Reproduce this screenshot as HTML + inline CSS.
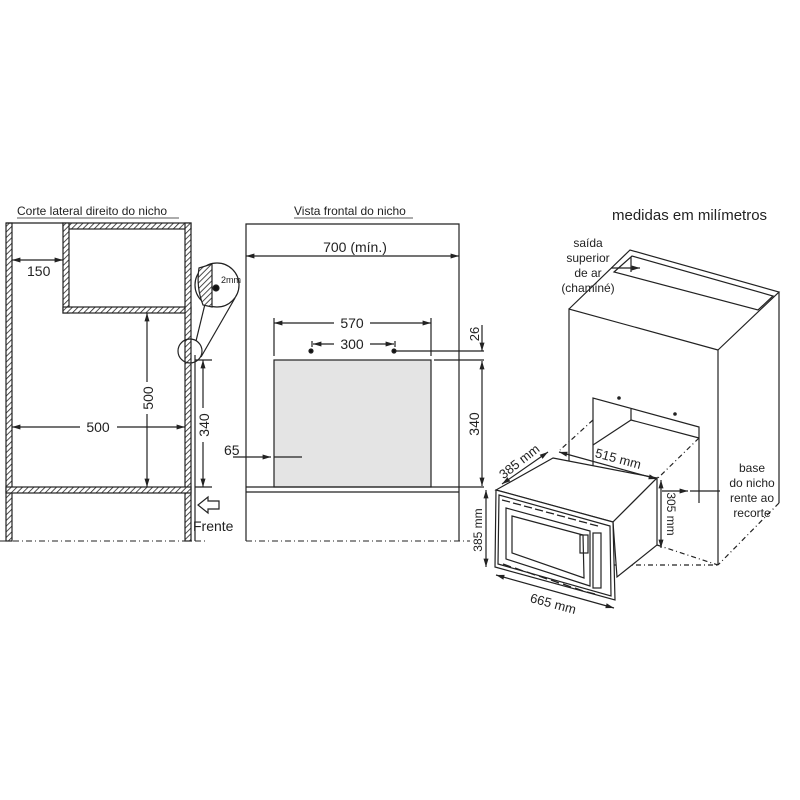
<!DOCTYPE html>
<html><head><meta charset="utf-8"><style>
html,body{margin:0;padding:0;background:#fff;}
svg{display:block;font-family:"Liberation Sans",sans-serif;}
</style></head><body>
<svg width="800" height="800" viewBox="0 0 800 800" xmlns="http://www.w3.org/2000/svg">
<defs>
<pattern id="h" width="4" height="4" patternUnits="userSpaceOnUse" patternTransform="rotate(45)">
<rect width="4" height="4" fill="#fff"/><line x1="0" y1="0" x2="0" y2="4" stroke="#222" stroke-width="1.6"/>
</pattern>
<marker id="a" viewBox="0 0 10 10" refX="10" refY="5" markerWidth="7" markerHeight="7" orient="auto-start-reverse"><path d="M0,2 L10,5 L0,8z" fill="#222"/></marker>
</defs>
<g stroke="#222" fill="none" stroke-width="1.2">

<!-- LEFT SECTION -->
<text x="17" y="215" font-size="12" fill="#222" stroke="none">Corte lateral direito do nicho</text>
<line x1="17" y1="218" x2="179" y2="218" stroke-width="0.8"/>
<rect x="6" y="223" width="6" height="318" fill="url(#h)"/>
<line x1="6" y1="223" x2="63" y2="223"/>
<rect x="63" y="223" width="128" height="6" fill="url(#h)"/>
<rect x="63" y="223" width="6" height="90" fill="url(#h)"/>
<rect x="63" y="307" width="128" height="6" fill="url(#h)"/>
<rect x="185" y="223" width="6" height="318" fill="url(#h)"/>
<rect x="6" y="487" width="185" height="6" fill="url(#h)"/>
<line x1="195" y1="355" x2="195" y2="541"/>
<line x1="12" y1="260" x2="63" y2="260" marker-start="url(#a)" marker-end="url(#a)"/>
<text x="27" y="276" font-size="14" fill="#222" stroke="none">150</text>
<line x1="147" y1="313" x2="147" y2="487" marker-start="url(#a)" marker-end="url(#a)"/>
<rect x="140" y="382" width="14" height="32" fill="#fff" stroke="none"/>
<text x="153" y="398" font-size="14" fill="#222" stroke="none" transform="rotate(-90 153 398)" text-anchor="middle">500</text>
<line x1="12" y1="427" x2="80" y2="427" marker-start="url(#a)"/>
<line x1="117" y1="427" x2="185" y2="427" marker-end="url(#a)"/>
<text x="98" y="432" font-size="14" fill="#222" stroke="none" text-anchor="middle">500</text>
<line x1="203" y1="360" x2="203" y2="487" marker-start="url(#a)" marker-end="url(#a)"/>
<line x1="195" y1="360" x2="212" y2="360"/><line x1="195" y1="487" x2="212" y2="487"/>
<rect x="196" y="408" width="14" height="34" fill="#fff" stroke="none"/>
<text x="209" y="425" font-size="14" fill="#222" stroke="none" transform="rotate(-90 209 425)" text-anchor="middle">340</text>
<circle cx="190" cy="351" r="12"/>
<circle cx="217" cy="285" r="22"/>
<line x1="196" y1="341" x2="205" y2="304"/><line x1="201" y1="357" x2="235" y2="298"/>
<path d="M199,268 L212,264 L212,307 L203,305 Q196,287 199,268z" fill="url(#h)"/>
<circle cx="216" cy="288" r="3" fill="#111"/>
<text x="221" y="283" font-size="9" fill="#222" stroke="none">2mm</text>
<path d="M219,501 L208,501 L208,497 L198,505 L208,513 L208,509 L219,509z"/>
<text x="193" y="531" font-size="14" fill="#222" stroke="none">Frente</text>
<line x1="0" y1="541" x2="205" y2="541" stroke-dasharray="6,3,1,3" stroke-width="1"/>

<!-- FRONT VIEW -->
<text x="294" y="215" font-size="12" fill="#222" stroke="none">Vista frontal do nicho</text>
<line x1="294" y1="218" x2="413" y2="218" stroke-width="0.8"/>
<polyline points="246,541 246,224 459,224 459,541"/>
<line x1="246" y1="256" x2="459" y2="256" marker-start="url(#a)" marker-end="url(#a)"/>
<text x="355" y="252" font-size="14" fill="#222" stroke="none" text-anchor="middle">700 (mín.)</text>
<rect x="274" y="360" width="157" height="127" fill="#e4e4e4"/>
<line x1="246" y1="487" x2="484" y2="487"/>
<line x1="246" y1="492" x2="459" y2="492"/>
<line x1="274" y1="356" x2="274" y2="318"/><line x1="431" y1="356" x2="431" y2="318"/>
<line x1="274" y1="323" x2="334" y2="323" marker-start="url(#a)"/>
<line x1="370" y1="323" x2="431" y2="323" marker-end="url(#a)"/>
<text x="352" y="328" font-size="14" fill="#222" stroke="none" text-anchor="middle">570</text>
<line x1="312" y1="347" x2="312" y2="341"/><line x1="395" y1="347" x2="395" y2="341"/>
<line x1="313" y1="344" x2="334" y2="344" marker-start="url(#a)"/>
<line x1="370" y1="344" x2="394" y2="344" marker-end="url(#a)"/>
<text x="352" y="349" font-size="14" fill="#222" stroke="none" text-anchor="middle">300</text>
<circle cx="311" cy="351" r="2" fill="#111"/><circle cx="394" cy="351" r="2" fill="#111"/>
<line x1="396" y1="351" x2="484" y2="351"/>
<line x1="434" y1="360" x2="484" y2="360"/>
<line x1="482" y1="325" x2="482" y2="351" marker-end="url(#a)"/>
<text x="479" y="334" font-size="13" fill="#222" stroke="none" transform="rotate(-90 479 334)" text-anchor="middle">26</text>
<line x1="482" y1="361" x2="482" y2="486" marker-start="url(#a)" marker-end="url(#a)"/>
<text x="479" y="424" font-size="14" fill="#222" stroke="none" transform="rotate(-90 479 424)" text-anchor="middle">340</text>
<line x1="233" y1="457" x2="271" y2="457" marker-end="url(#a)"/>
<line x1="274" y1="457" x2="302" y2="457"/>
<text x="224" y="455" font-size="14" fill="#222" stroke="none">65</text>
<line x1="246" y1="541" x2="470" y2="541" stroke-dasharray="6,3,1,3" stroke-width="1"/>

<!-- ISO -->
<text x="612" y="220" font-size="15" fill="#222" stroke="none">medidas em milímetros</text>
<text x="588" y="247" font-size="12" fill="#222" stroke="none" text-anchor="middle">saída</text>
<text x="588" y="262" font-size="12" fill="#222" stroke="none" text-anchor="middle">superior</text>
<text x="588" y="277" font-size="12" fill="#222" stroke="none" text-anchor="middle">de ar</text>
<text x="588" y="292" font-size="12" fill="#222" stroke="none" text-anchor="middle">(chaminé)</text>
<polyline points="569,560 569,309 718,350 718,565"/>
<polyline points="569,309 630,250 779,292 718,350"/>
<polygon points="614,272 632,256 773,296 758,310"/>
<line x1="631" y1="257" x2="631" y2="272"/>
<line x1="611" y1="268" x2="640" y2="268" marker-end="url(#a)"/>
<line x1="779" y1="292" x2="779" y2="503"/>
<line x1="779" y1="503" x2="718" y2="565" stroke-dasharray="5,3,1,3"/>
<line x1="612" y1="565" x2="718" y2="565" stroke-dasharray="5,3,1,3"/>
<!-- niche cutout -->
<polyline points="593,468 593,398 699,427 699,503"/>
<line x1="631" y1="409" x2="631" y2="420"/>
<line x1="631" y1="420" x2="593" y2="445"/>
<line x1="631" y1="420" x2="699" y2="438"/>
<circle cx="619" cy="398" r="1.2" fill="#222"/><circle cx="675" cy="414" r="1.2" fill="#222"/>
<line x1="593" y1="420" x2="560" y2="450" stroke-dasharray="5,3,1,3"/>
<line x1="699" y1="438" x2="658" y2="478" stroke-dasharray="5,3,1,3"/>
<line x1="690" y1="491" x2="720" y2="491"/>
<line x1="662" y1="491" x2="688" y2="491" marker-end="url(#a)"/>
<text x="752" y="472" font-size="12" fill="#222" stroke="none" text-anchor="middle">base</text>
<text x="752" y="487" font-size="12" fill="#222" stroke="none" text-anchor="middle">do nicho</text>
<text x="752" y="502" font-size="12" fill="#222" stroke="none" text-anchor="middle">rente ao</text>
<text x="752" y="517" font-size="12" fill="#222" stroke="none" text-anchor="middle">recorte</text>
<line x1="657" y1="545" x2="718" y2="565" stroke-dasharray="5,3,1,3"/>
<!-- microwave -->
<polygon points="553,458 657,478 613,522 496,490" fill="#fff"/>
<polygon points="657,478 657,545 617,577 613,522" fill="#fff"/>
<polygon points="496,490 613,522 615,600 495,567" fill="#fff"/>
<polygon points="499,495 610,526 611,596 498,564"/>
<polygon points="506,508 590,531 590,586 506,559"/>
<polygon points="512,516 583,535 584,578 512,553"/>
<rect x="593" y="533" width="8" height="55"/>
<rect x="580" y="535" width="8" height="18"/>
<g stroke-width="1.3">
<line x1="502" y1="500" x2="510" y2="502"/><line x1="513" y1="503" x2="521" y2="505"/><line x1="524" y1="506" x2="532" y2="508"/><line x1="535" y1="509" x2="543" y2="511"/><line x1="546" y1="512" x2="554" y2="514"/><line x1="557" y1="515" x2="565" y2="517"/><line x1="568" y1="518" x2="576" y2="520"/><line x1="579" y1="521" x2="587" y2="523"/><line x1="590" y1="524" x2="598" y2="526"/>
<line x1="503" y1="564" x2="511" y2="567"/><line x1="515" y1="568" x2="523" y2="571"/><line x1="527" y1="572" x2="535" y2="575"/><line x1="539" y1="576" x2="547" y2="579"/><line x1="551" y1="580" x2="559" y2="583"/><line x1="563" y1="584" x2="571" y2="587"/><line x1="575" y1="588" x2="583" y2="591"/><line x1="587" y1="592" x2="595" y2="594"/>
</g>
<line x1="486" y1="490" x2="486" y2="567" marker-start="url(#a)" marker-end="url(#a)"/>
<text x="482" y="530" font-size="12" fill="#222" stroke="none" transform="rotate(-90 482 530)" text-anchor="middle">385 mm</text>
<line x1="496" y1="575" x2="614" y2="608" marker-start="url(#a)" marker-end="url(#a)"/>
<text x="552" y="608" font-size="13" fill="#222" stroke="none" transform="rotate(15 552 608)" text-anchor="middle">665 mm</text>
<line x1="502" y1="484" x2="548" y2="452" marker-start="url(#a)" marker-end="url(#a)"/>
<text x="522" y="465" font-size="13" fill="#222" stroke="none" transform="rotate(-38 522 465)" text-anchor="middle">385 mm</text>
<line x1="559" y1="452" x2="657" y2="479" marker-start="url(#a)" marker-end="url(#a)"/>
<text x="617" y="463" font-size="13" fill="#222" stroke="none" transform="rotate(15 617 463)" text-anchor="middle">515 mm</text>
<line x1="661" y1="480" x2="661" y2="548" marker-start="url(#a)" marker-end="url(#a)"/>
<text x="667" y="514" font-size="12" fill="#222" stroke="none" transform="rotate(90 667 514)" text-anchor="middle">305 mm</text>
</g>
</svg>
</body></html>
